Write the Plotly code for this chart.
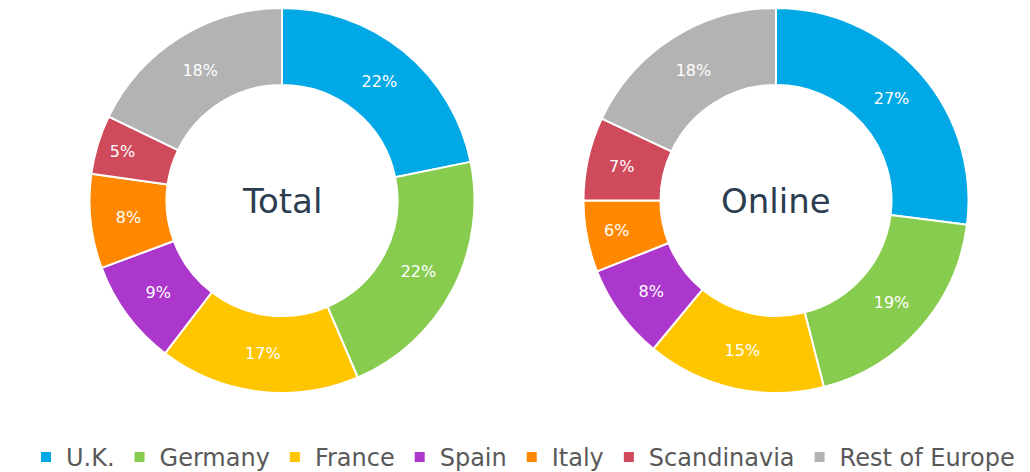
import plotly.graph_objects as go

regions = ["U.K.", "Germany", "France", "Spain", "Italy", "Scandinavia", "Rest of Europe"]
total_values = [22, 22, 17, 9, 8, 5, 18]
online_values = [27, 19, 15, 8, 6, 7, 18]
colors = ["#00a9e6", "#88cc4f", "#ffc600", "#ab37cd", "#ff8800", "#cf4a5a", "#b3b3b3"]
titles = ["Total", "Online"]

W, H = 1030, 472
R = 195

def dom(cx, cy):
    return dict(x=[(cx - R) / W, (cx + R) / W],
                y=[max(0, (H - cy - R) / H), min(1, (H - cy + R) / H)])

fig = go.Figure()
for vals, name, (cx, cy) in [(total_values, titles[0], (274, 195)),
                              (online_values, titles[1], (768, 195))]:
    fig.add_trace(go.Pie(
        labels=regions, values=vals, name=name,
        hole=0.6, sort=False, direction="clockwise", rotation=0,
        marker=dict(colors=colors, line=dict(color="white", width=2)),
        texttemplate="%{value}%", textposition="inside",
        insidetextorientation="horizontal",
        textfont=dict(color="white", size=16, family="DejaVu Sans"),
        domain=dom(cx, cy), showlegend=(name == "Total"),
        hoverinfo="label+value",
    ))
    fig.add_annotation(text=name, x=cx / W, y=(H - cy) / H, xref="paper", yref="paper",
                       xanchor="center", yanchor="middle", showarrow=False,
                       font=dict(size=34, color="#2b3d4f", family="DejaVu Sans"))

fig.update_layout(
    width=W, height=H,
    margin=dict(l=0, r=0, t=0, b=0),
    paper_bgcolor="white",
    legend=dict(orientation="h", x=0.5, xanchor="center", y=0.035, yanchor="middle",
                font=dict(size=24, color="#595959", family="DejaVu Sans"),
                itemsizing="constant"),
)
fig.write_html("out.html")
